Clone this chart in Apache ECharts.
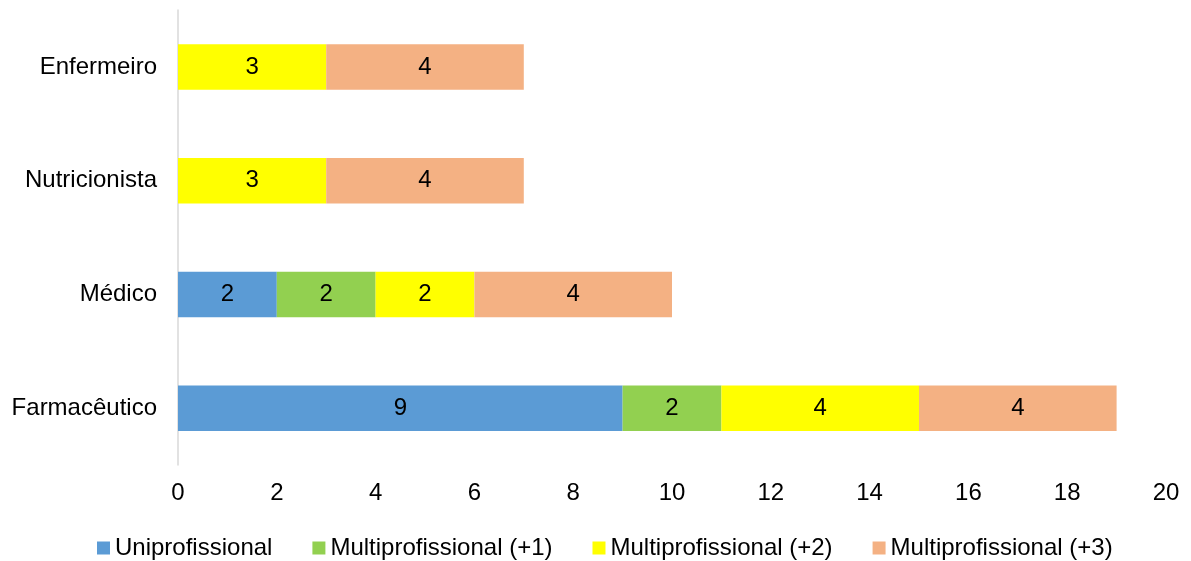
<!DOCTYPE html>
<html>
<head>
<meta charset="utf-8">
<script src="https://cdn.jsdelivr.net/npm/echarts@6/dist/echarts.min.js"></script>
<style>
html,body{margin:0;padding:0;background:#fff;}
#chart{width:1191px;height:561px;}
</style>
</head>
<body>
<div id="chart"></div>
<script>
const categories = ['Farmacêutico', 'Médico', 'Nutricionista', 'Enfermeiro'];
const seriesNames = ['Uniprofissional', 'Multiprofissional (+1)', 'Multiprofissional (+2)', 'Multiprofissional (+3)'];
const uniprofissional = [9, 2, 0, 0];
const multi1 = [2, 2, 0, 0];
const multi2 = [4, 2, 3, 3];
const multi3 = [4, 4, 4, 4];
const colors = ['#5B9BD5', '#92D050', '#FFFF00', '#F4B183'];

const font = 'Liberation Sans, Arial, sans-serif';
const values = [uniprofissional, multi1, multi2, multi3];

const chart = echarts.init(document.getElementById('chart'), null, {renderer: 'canvas'});
chart.setOption({
  animation: false,
  backgroundColor: '#ffffff',
  grid: {left: 178, right: 25, top: 10, bottom: 96, containLabel: false},
  legend: {
    data: seriesNames,
    left: 92,
    top: 531,
    icon: 'rect',
    itemWidth: 13,
    itemHeight: 13,
    itemGap: 40,
    textStyle: {fontFamily: font, fontSize: 24, color: '#000'}
  },
  xAxis: {
    type: 'value',
    min: 0,
    max: 20,
    interval: 2,
    axisLine: {show: false},
    axisTick: {show: false},
    splitLine: {show: false},
    axisLabel: {fontFamily: font, fontSize: 24, color: '#000', margin: 16}
  },
  yAxis: {
    type: 'category',
    data: categories,
    axisLine: {show: true, lineStyle: {color: '#d9d9d9', width: 1.5}},
    axisTick: {show: false},
    axisLabel: {fontFamily: font, fontSize: 24, color: '#000', margin: 21}
  },
  series: seriesNames.map((name, i) => ({
    name: name,
    type: 'bar',
    stack: 'total',
    barWidth: '40%',
    data: values[i],
    itemStyle: {color: colors[i]},
    label: {
      show: true,
      position: 'inside',
      color: '#000',
      fontFamily: font,
      fontSize: 24,
      formatter: p => (p.value ? String(p.value) : '')
    }
  }))
});
</script>
</body>
</html>
